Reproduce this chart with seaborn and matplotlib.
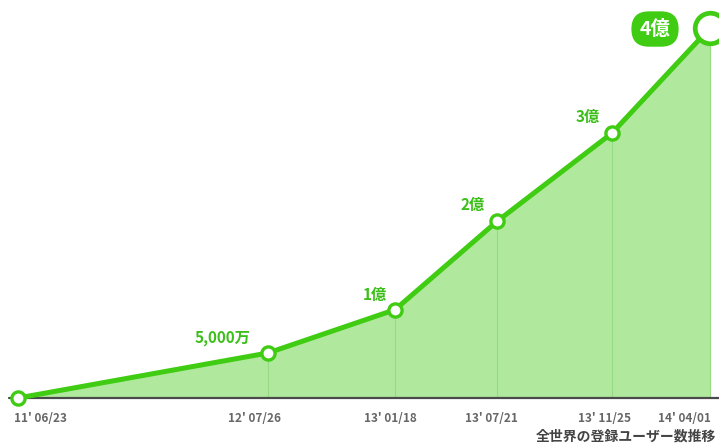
import numpy as np
import pandas as pd
import matplotlib
matplotlib.use('Agg')
import matplotlib.pyplot as plt
import seaborn as sns

# --- data ---
date_labels = ["11' 06/23", "12' 07/26", "13' 01/18", "13' 07/21", "13' 11/25", "14' 04/01"]
# position along the timeline (read from the picture, not proportional to days)
timeline = [0, 250, 377, 479, 594, 692]
# registered users, in 億 (the last point sits a bit above 4 in the source)
users = [0.0, 0.51, 1.0, 2.0, 3.0, 4.19]
point_labels = ['', '5,000万', '1億', '2億', '3億', '4億']

df = pd.DataFrame({'t': timeline, 'users': users, 'date': date_labels})

# --- style ---
GREEN = '#3fcc12'
FILL = '#b0e99e'
TEXT_GREEN = '#3cbf1a'
GRAY = '#666666'

sns.set_theme(style='white')
plt.rcParams['font.family'] = ['Noto Sans CJK JP', 'DejaVu Sans']

fig = plt.figure(figsize=(7.19, 4.44), dpi=100)
ax = fig.add_axes([0, 0, 1, 1])
ax.set_xlim(-18, 701)
ax.set_ylim(-46 / 88.3, 398 / 88.3)
ax.axis('off')

# area + thin drop lines
ax.fill_between(df['t'], 0, df['users'], color=FILL, lw=0, zorder=1)
ax.vlines(df['t'][1:], 0, df['users'][1:], color='#95d983', lw=0.8, zorder=2)

# baseline
ax.axhline(0, xmin=0.012, xmax=1, color='#4a4a4a', lw=1.6, zorder=3)

# main line
sns.lineplot(data=df, x='t', y='users', color=GREEN, lw=3.6, ax=ax,
             zorder=4, legend=False)
ax.plot(df['t'][:-1], df['users'][:-1], 'o', ms=9.5, mfc='white',
        mec=GREEN, mew=2.4, zorder=5)
ax.plot(df['t'].iloc[-1], df['users'].iloc[-1], 'o', ms=22, mfc='white',
        mec=GREEN, mew=3.4, zorder=5, clip_on=False)

# value labels
label_offsets = [(0, 0), (-46, 15), (-20, 15), (-24, 16), (-24, 16)]
for t, u, lab, off in zip(df['t'][:-1], df['users'][:-1], point_labels[:-1], label_offsets):
    if lab:
        ax.annotate(lab, (t, u), xytext=off, textcoords='offset pixels',
                    ha='center', va='center', fontsize=11, fontweight='bold',
                    color=TEXT_GREEN, zorder=6)

# badge for the last point
ax.annotate(point_labels[-1], (df['t'].iloc[-1], df['users'].iloc[-1]),
            xytext=(-55, -1), textcoords='offset pixels', ha='center', va='center',
            fontsize=14, fontweight='bold', color='white', zorder=6,
            bbox=dict(boxstyle='round,pad=0.42,rounding_size=0.9', fc=GREEN, ec='none'))

# date labels under the axis
date_offsets = [22, -13, -5, -6, -8, -26]
for t, lab, dx in zip(df['t'], df['date'], date_offsets):
    ax.annotate(lab, (t, 0), xytext=(dx, -20), textcoords='offset pixels',
                ha='center', va='center', fontsize=8.5, fontweight='bold',
                color=GRAY, annotation_clip=False)

# caption in the bottom-right corner
fig.text(716 / 719, 1 / 444, '全世界の登録ユーザー数推移', ha='right', va='bottom',
         fontsize=10, fontweight='bold', color='#444444')

fig.savefig('out.png', dpi=100)
